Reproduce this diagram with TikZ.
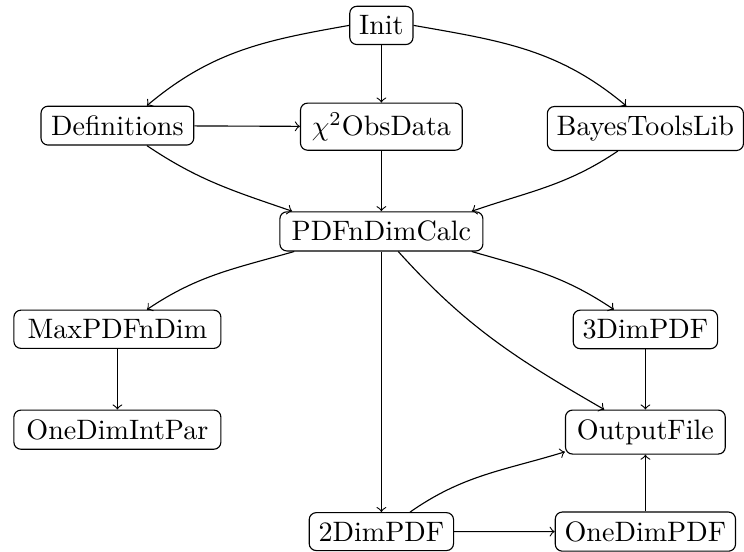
\documentclass[tikz,border=0pt]{standalone}
\usepackage{amsmath}
\usepackage{tikz}
\usetikzlibrary{matrix}

\begin{document}
\begin{tikzpicture}[ampersand replacement=\&]
\matrix (m) [matrix of nodes,inner sep=0pt,outer sep=0pt,
  row sep={35.3pt,between origins},column sep={94pt,between origins},
  nodes={draw,rounded corners=2.5pt,inner sep=.3333em,outer sep=.2pt}]
{ \& Init \& \\[0.5pt]
  |[minimum width=54.4pt]| Definitions \& |[minimum width=57.6pt]| $\chi^2$ObsData \& |[minimum width=66.3pt]| BayesToolsLib \\[2.3pt]
  \& |[minimum width=72.3pt]| PDFnDimCalc \& \\[-0.5pt]
  |[minimum width=73.7pt]| MaxPDFnDim \& \& 3DimPDF \\[0.5pt]
  |[minimum width=73.7pt]| OneDimIntPar \& \& |[minimum width=56.9pt]| OutputFile \\[1pt]
  \& 2DimPDF \& OneDimPDF \\
} ;
\useasboundingbox ([shift={(-135.8pt,12.4pt)}]m-1-2.base) rectangle ([shift={(125.3pt,-182.4pt)}]m-1-2.base);
\path[->]

(m-1-2.west)
edge [out=190,in=40]
([xshift=10.5pt]m-2-1.north)

(m-1-2)
edge
(m-2-2)

(m-1-2.east)
edge [out=-10,in=140]
([xshift=-6.8pt]m-2-3.north)

(m-2-1)
edge
(m-2-2)

([xshift=10.5pt]m-2-1.south)
edge [out=-34,in=161]
([xshift=4.6pt]m-3-2.north west)

(m-2-2)
edge
(m-3-2)

([xshift=-9.8pt]m-2-3.south)
edge [out=214,in=19]
([xshift=-4.2pt]m-3-2.north east)

([xshift=5.3pt]m-3-2.south west)
edge [out=196,in=34]
([xshift=10.5pt]m-4-1.north)

([xshift=-4.2pt]m-3-2.south east)
edge [out=-16,in=146]
([xshift=-11.2pt]m-4-3.north)

([xshift=6pt]m-3-2.south)
edge [out=-48,in=150]
([xshift=14pt]m-5-3.north west)

(m-3-2)
edge
(m-6-2)

(m-4-1)
edge
(m-5-1)

(m-4-3)
edge
(m-5-3)

([xshift=10.2pt]m-6-2.north)
edge [out=35,in=197]
([yshift=1pt]m-5-3.south west)

(m-6-2)
edge
(m-6-3)

(m-6-3)
edge
(m-5-3)

;
\end{tikzpicture}
\end{document}
